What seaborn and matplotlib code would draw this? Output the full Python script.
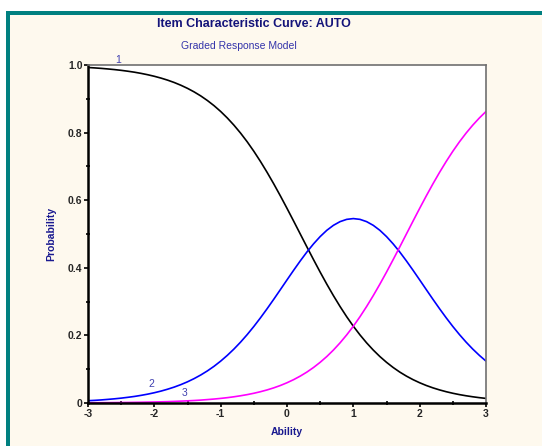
import numpy as np
import pandas as pd
import matplotlib
matplotlib.use("Agg")
import matplotlib.pyplot as plt
from matplotlib.patches import Rectangle
from matplotlib.ticker import FixedLocator, FixedFormatter
import seaborn as sns

# ---- data ----
ability = [-3.0, -2.9, -2.8, -2.7, -2.6, -2.5, -2.4, -2.3, -2.2, -2.1,
           -2.0, -1.9, -1.8, -1.7, -1.6, -1.5, -1.4, -1.3, -1.2, -1.1,
           -1.0, -0.9, -0.8, -0.7, -0.6, -0.5, -0.4, -0.3, -0.2, -0.1,
           0.0, 0.1, 0.2, 0.3, 0.4, 0.5, 0.6, 0.7, 0.8, 0.9,
           1.0, 1.1, 1.2, 1.3, 1.4, 1.5, 1.6, 1.7, 1.8, 1.9,
           2.0, 2.1, 2.2, 2.3, 2.4, 2.5, 2.6, 2.7, 2.8, 2.9, 3.0]
cat1 = [0.9926, 0.9914, 0.9900, 0.9883, 0.9864, 0.9842, 0.9816, 0.9787, 0.9752, 0.9712,
        0.9666, 0.9613, 0.9552, 0.9482, 0.9401, 0.9309, 0.9204, 0.9085, 0.8949, 0.8797,
        0.8625, 0.8433, 0.8220, 0.7985, 0.7728, 0.7448, 0.7146, 0.6824, 0.6484, 0.6128,
        0.5759, 0.5382, 0.5000, 0.4618, 0.4241, 0.3872, 0.3516, 0.3176, 0.2854, 0.2552,
        0.2272, 0.2015, 0.1780, 0.1567, 0.1375, 0.1204, 0.1051, 0.0915, 0.0796, 0.0691,
        0.0599, 0.0518, 0.0448, 0.0387, 0.0334, 0.0288, 0.0248, 0.0214, 0.0184, 0.0158, 0.0136]
cat2 = [0.0068, 0.0078, 0.0091, 0.0107, 0.0124, 0.0144, 0.0168, 0.0194, 0.0226, 0.0262,
        0.0304, 0.0352, 0.0408, 0.0471, 0.0544, 0.0627, 0.0722, 0.0829, 0.0950, 0.1086,
        0.1239, 0.1409, 0.1596, 0.1801, 0.2024, 0.2264, 0.2520, 0.2789, 0.3068, 0.3354,
        0.3642, 0.3927, 0.4204, 0.4467, 0.4708, 0.4924, 0.5109, 0.5257, 0.5366, 0.5433,
        0.5456, 0.5433, 0.5366, 0.5257, 0.5109, 0.4924, 0.4708, 0.4467, 0.4204, 0.3927,
        0.3642, 0.3354, 0.3068, 0.2789, 0.2520, 0.2264, 0.2024, 0.1801, 0.1596, 0.1409, 0.1239]
cat3 = [0.0006, 0.0008, 0.0009, 0.0010, 0.0012, 0.0014, 0.0016, 0.0019, 0.0022, 0.0026,
        0.0030, 0.0035, 0.0040, 0.0047, 0.0055, 0.0064, 0.0074, 0.0086, 0.0101, 0.0117,
        0.0136, 0.0158, 0.0184, 0.0214, 0.0248, 0.0288, 0.0334, 0.0387, 0.0448, 0.0518,
        0.0599, 0.0691, 0.0796, 0.0915, 0.1051, 0.1204, 0.1375, 0.1567, 0.1780, 0.2015,
        0.2272, 0.2552, 0.2854, 0.3176, 0.3516, 0.3872, 0.4241, 0.4618, 0.5000, 0.5382,
        0.5759, 0.6128, 0.6484, 0.6824, 0.7146, 0.7448, 0.7728, 0.7985, 0.8220, 0.8433, 0.8625]
categories = ["1", "2", "3"]
x_ticks = [-3, -2, -1, 0, 1, 2, 3]
x_tick_labels = ["-3", "-2", "-1", "0", "1", "2", "3"]
y_ticks = [0.0, 0.2, 0.4, 0.6, 0.8, 1.0]
y_tick_labels = ["0", "0.2", "0.4", "0.6", "0.8", "1.0"]

df = pd.DataFrame({
    "Ability": ability * 3,
    "Probability": cat1 + cat2 + cat3,
    "Category": [categories[0]] * len(ability) + [categories[1]] * len(ability) + [categories[2]] * len(ability),
})

sns.set_style("white")
plt.rcParams["font.family"] = ["Liberation Sans", "DejaVu Sans"]

W, H = 542, 446
fig = plt.figure(figsize=(W / 100, H / 100), dpi=100, facecolor="white")

# frame: teal border + cream panel
fig.patches.append(Rectangle((6 / W, 0), 1, (H - 11) / H, transform=fig.transFigure,
                             facecolor="#008080", edgecolor="none", zorder=-10))
fig.patches.append(Rectangle((10 / W, 0), 1, (H - 15) / H, transform=fig.transFigure,
                             facecolor="#FEF9EE", edgecolor="none", zorder=-9))

ax = fig.add_axes([88 / W, (H - 403) / H, (486 - 88) / W, (403 - 65) / H])
ax.set_zorder(5)
ax.set_facecolor("white")

palette = {"1": "#000000", "2": "#0000FF", "3": "#FF00FF"}
sns.lineplot(data=df, x="Ability", y="Probability", hue="Category", palette=palette,
             linewidth=1.2, legend=False, ax=ax)

ax.set_xlim(-3, 3)
ax.set_ylim(0, 1)
ax.xaxis.set_major_locator(FixedLocator(x_ticks))
ax.xaxis.set_major_formatter(FixedFormatter(x_tick_labels))
ax.yaxis.set_major_locator(FixedLocator(y_ticks))
ax.yaxis.set_major_formatter(FixedFormatter(y_tick_labels))
ax.xaxis.set_minor_locator(FixedLocator([-2.5, -1.5, -0.5, 0.5, 1.5, 2.5]))
ax.yaxis.set_minor_locator(FixedLocator([0.1, 0.3, 0.5, 0.7, 0.9]))

for side in ["left", "bottom"]:
    ax.spines[side].set_color("black")
    ax.spines[side].set_linewidth(1.8)
for side in ["top", "right"]:
    ax.spines[side].set_color("#707070")
    ax.spines[side].set_linewidth(1.2)
    ax.spines[side].set_visible(True)

ax.tick_params(axis="both", which="major", direction="out", length=3, width=1.2,
               color="black", labelsize=7.5, pad=1, left=True, bottom=True)
ax.tick_params(axis="both", which="minor", direction="inout", length=3, width=1.2,
               color="black", left=True, bottom=True)
for lab in ax.get_xticklabels() + ax.get_yticklabels():
    lab.set_fontweight("bold")

ax.set_xlabel("Ability", fontsize=7.5, fontweight="bold", color="#1A1A90", labelpad=6)
ax.set_ylabel("Probability", fontsize=7.5, fontweight="bold", color="#1A1A90", labelpad=8)

fig.text(254 / W, 1 - 24 / H, "Item Characteristic Curve: AUTO", ha="center", va="center",
         fontsize=9, fontweight="bold", color="#14147A")
fig.text(239 / W, 1 - 46 / H, "Graded Response Model", ha="center", va="center",
         fontsize=7.5, color="#3333AA")

# curve labels
lab_color = "#4040B0"
ax.text(-2.55, 1.0, categories[0], ha="center", va="bottom", fontsize=7.5, color=lab_color, clip_on=False)
ax.text(-2.05, 0.04, categories[1], ha="center", va="bottom", fontsize=7.5, color=lab_color)
ax.text(-1.55, 0.015, categories[2], ha="center", va="bottom", fontsize=7.5, color=lab_color)

fig.savefig("out.png", dpi=100, facecolor=fig.get_facecolor())
